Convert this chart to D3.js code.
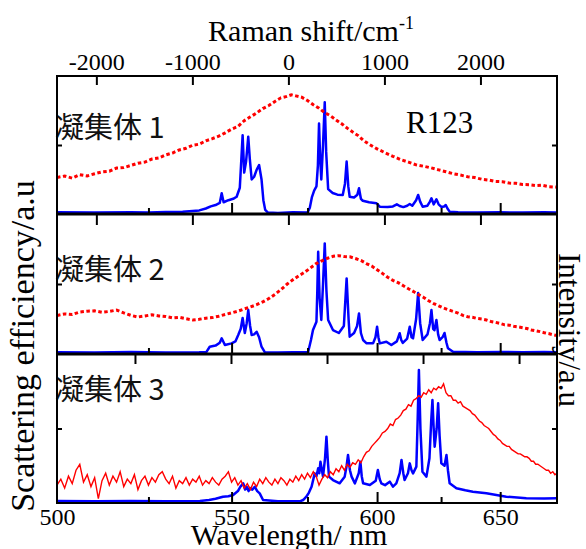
<!DOCTYPE html>
<html>
<head>
<meta charset="utf-8">
<script src="https://cdn.jsdelivr.net/npm/d3@7"></script>
<style>
body{margin:0;background:#fff;}
.serif{font-family:"Liberation Serif","Times New Roman",serif;}
</style>
</head>
<body>
<script>
//wavelength ticks (nm) and raman shift ticks (cm-1)
var wlMajor = [550, 600, 650];
var wlMinor = [525, 575, 625];
var wlLabels = [500, 550, 600, 650];
var ramanTicks = [-2000, -1000, 0, 1000, 2000];
var laserNm = 568.5;        //zero of the raman shift axis
var panel3ZeroNm = 581.8;   //zero of the shifted ticks on panel 3

var panelNames = ["凝集体 1", "凝集体 2", "凝集体 3"];

//[wavelength nm, intensity a.u. (0-100)]
var blue1 = [[500,1.2],[510,1.0],[520,1.3],[525,1.1],[530,1.4],[535,1.6],[537,2.0],[540,2.6],[542,4.0],[543.5,5.5],[545,6.5],[546.3,8],[546.9,15],[547.5,8.5],[549,10],[550.5,11],[551.6,12.5],[552.6,19],[553.1,40],[553.5,57],[554.0,30],[554.6,38],[555.3,56],[555.8,40],[556.4,25],[557.2,27],[558.0,32],[558.8,35.5],[559.6,25],[560.2,10],[560.8,3],[561.7,1],[565,0.8],[570,1.2],[575,1],[575.8,4.5],[576.5,12],[577.3,17],[578.1,20],[578.6,35],[579.0,65.5],[579.4,40],[579.8,25],[580.4,50],[581.0,81],[581.5,45],[582.2,18],[583.8,15.2],[585.5,14],[587.4,13.8],[588.2,22],[588.8,38],[589.4,20],[589.9,12.5],[591.5,12],[592.7,14],[593.3,18.6],[594,11],[594.7,9.6],[597,8.5],[599.8,7.8],[601,5.3],[604,5],[606,5.5],[607.5,7],[608.6,5.8],[610,5],[611.5,6],[612.5,7.2],[613.5,6],[615,10],[615.8,13.8],[616.6,9],[617.6,5.3],[619.5,6],[620.5,9],[621.1,11.4],[622,7],[623.1,10.7],[624,7],[625.1,5.1],[626.2,5.5],[626.9,6.5],[627.6,4],[628.5,1.7],[632,1.3],[640,1.1],[650,1.2],[660,1.0],[670,1.2],[676,1.1]];
var red1 = [[500,26.5],[502,27.5],[504,26],[506,28.5],[508,27.6],[510,29.2],[512,30.5],[514,31],[516,33.3],[518,33.6],[520,35.2],[522,36.8],[524,37.6],[526,39.8],[528,40.6],[530,42.8],[532,44.2],[534,46.4],[536,47.6],[538,49.8],[540,50.6],[542,53],[544,54.6],[546,56.4],[548,58.8],[550,61.5],[552,63.4],[554,67.6],[556,70.4],[558,73.2],[560,76.4],[562,78.6],[564,81.6],[566,84.2],[568,85.2],[569.5,86.4],[571,85.6],[573,84.6],[575,82.2],[577,79.2],[579,76.6],[581,73.4],[583,71.2],[585,68.2],[587,65.4],[589,62.2],[591,59.4],[593,56.8],[595,53.2],[597,50.6],[600,47.2],[603,44.4],[606,41.8],[609,39.4],[612,37.6],[615,35.6],[618,34.6],[621,33.4],[624,32],[627,30.6],[630,29.2],[633,28.2],[636,27],[639,26.4],[642,25.2],[645,24.6],[648,23.6],[651,23.4],[654,22.4],[657,22.2],[660,21.4],[663,21.2],[666,20.6],[669,20.8],[672,19.8],[676,19.4]];

var blue2 = [[500,1.2],[510,1.0],[520,1.4],[530,1.1],[540,1.3],[542.2,1.5],[543.2,5.2],[545,6],[546.3,8],[546.9,11.2],[547.9,6.4],[550,7.6],[551.2,9],[552.1,13.6],[552.9,18],[553.5,25.7],[554.2,15],[554.8,22],[555.3,31.4],[555.9,20],[556.4,13.6],[557.2,14],[558,15.9],[558.8,12],[559.6,5.2],[560.7,1.2],[565,1.0],[570,1.3],[575.2,1.2],[576.2,10],[576.9,17.1],[578.1,23.1],[578.4,45],[578.7,73],[579.2,40],[579.8,24.3],[580.4,50],[581.0,79],[581.6,45],[582.2,24.3],[583.9,17.1],[586,15],[587.8,20],[588.8,54],[589.5,25],[589.9,12.4],[591.5,15],[592.6,20],[593.3,29],[594,15],[594.8,10],[596.1,7.6],[598.5,7.6],[599.4,12],[600,19.5],[600.5,12],[601,7.6],[603.5,8.8],[605.4,6.4],[607.5,9],[608.6,14.8],[609.2,10],[609.8,7.9],[611.5,11],[612.5,19.5],[613.2,12],[613.8,11.2],[615,25],[615.8,43.6],[616.6,22],[617.6,10],[619.5,14],[620.5,22],[621.1,31.4],[621.8,18],[622.3,17],[623.1,24.3],[623.8,14],[624.4,10],[625.6,12],[626.4,15],[627.2,8],[627.8,4.1],[629.9,1.6],[635,1.4],[640,1.2],[650,1.5],[660,1.2],[670,1.4],[676,1.3]];
var red2 = [[500,27.5],[502,28.6],[504,28.2],[506,30],[508,30.6],[510,30.8],[512,29.8],[514,30.4],[516,31.4],[518,29.4],[520,27.6],[522,26.4],[524,27.2],[526,28],[528,27.2],[530,26.8],[532,25.8],[534,26.2],[536,25.2],[538,24.3],[540,24.8],[542,25.6],[544,26],[546,27],[548,28.2],[550,29.4],[552,30.6],[554,32.2],[556,33.6],[558,35.2],[560,37.2],[562,39.6],[564,42.6],[566,46],[568,49.8],[570,53],[572,55.8],[574,58.4],[576,61.4],[578,64.6],[580,66.6],[582,68.4],[584,69.8],[586,70.2],[588,69.6],[590,69.4],[592,68.2],[594,66.8],[596,64.6],[598,62.8],[600,60.2],[602,57.6],[604,54.8],[606,52.6],[608,51],[610,48.8],[612,46.6],[614,44.6],[616,42.4],[618,40.4],[620,38],[622,36],[624,34.4],[626,32.8],[628,31.6],[630,30.4],[632,29.2],[634,27.6],[636,26.6],[638,26.2],[640,25.4],[642,25],[644,24.3],[646,23.2],[648,22.6],[650,21.8],[652,20.8],[654,20.6],[656,19.8],[658,19.4],[660,18.8],[662,18.2],[664,17.2],[666,16.6],[668,16],[670,15.2],[672,14.6],[674,13.8],[676,13.2]];

var blue3 = [[500,1.3],[510,1.1],[520,1.4],[530,1.2],[540.2,1.3],[543,2],[545,2.8],[547.3,4.2],[549,4.5],[550.5,5.4],[552,8],[552.8,11],[553.7,13.2],[554.3,9],[554.8,10.9],[555.4,8],[555.8,10.1],[556.6,9],[557.4,10.9],[558.2,8],[559,6.5],[560.1,2],[565,1.2],[572.4,1.1],[573.5,2],[574.6,4.2],[575.5,7],[576.4,10.9],[577.5,19.9],[578.1,18],[578.7,23.3],[579.1,20],[579.5,27.7],[580.4,17.7],[581.1,30],[581.6,44.5],[582.1,28],[582.5,17.7],[583.9,15.4],[586.3,13.2],[588.1,17.7],[588.8,25],[589.3,32.2],[590,22],[590.6,17.7],[591.8,13.2],[593.2,20],[593.8,27.7],[594.3,18],[594.8,13.2],[597.3,12.1],[599.5,15],[600.3,22.1],[601,16],[601.6,13.2],[603,12],[604.8,14.3],[606,11],[607.3,13.2],[608.6,20],[609.3,28.9],[610,20],[610.5,15.4],[611.8,20],[612.5,26.6],[613.2,22],[613.8,19.9],[615.1,24.4],[615.6,55],[616.1,89.3],[616.7,50],[617.5,21],[619.1,17.7],[620.3,30],[621,55],[621.5,69.1],[622,50],[622.4,37.8],[623.2,50],[623.8,66.9],[624.4,45],[625.1,26.6],[626.4,25],[627.2,32.2],[627.8,22],[628.5,13.2],[631.3,9.9],[635,8.5],[638.2,7.6],[644,6.5],[652.7,4.2],[661.7,3.2],[670,3.0],[676,3.2]];
//red curve of panel 3 sampled every 1 nm from 500 nm
var red3Start = 500;
var red3 = [12,16,10,18,13,22,26,14,19,11,17,3,15,20,12,18,14,21,11,16,
  13,19,9,15,18,12,17,14,19,21,16,13,18,10,15,13,17,12,16,14,
  18,12,15,13,17,14,12,16,18,21,14,17,12,15,10,13,9,14,11,16,
  13,17,14,12,16,13,17,15,12,16,14,18,15,19,16,20,17,21,18,12,
  16,19,17,21,19,23,21,25,22,26,24,27,26,29,27,31,34,35,38,40,
  42,44,47,48,50,53,52,56,57,59,62,63,66,65,69,70,72,71,74,73,
  76,74,77,76,78,77,80,74,72,72,69,69,67,68,65,64,63,62,60,59,
  57,55,54,52,51,50,48,46,45,43,42,40,39,38,38,36,35,34,33,33,
  32,31,31,30,28,28,26,26,25,24,23,22,22,20,21,19,20];

window.onload = function(){
    var w = 586, h = 549;
    var left = 57, right = 557;
    var panelTops = [76, 214, 354];
    var panelBottoms = [214, 354, 503];

    var svg = d3.select("body")
        .append("svg")
        .attr("width", w)
        .attr("height", h);

    //bottom scale is linear in wavenumber (cm-1)
    var xNu = d3.scaleLinear()
        .domain([1e7/500, 1e7/676])
        .range([left, right]);
    function xWl(l){ return xNu(1e7/l); }

    var raman = d3.scaleLinear()
        .domain([1e7/laserNm - 1e7/500, 1e7/laserNm - 1e7/676])
        .range([left, right]);
    var raman3 = d3.scaleLinear()
        .domain([1e7/panel3ZeroNm - 1e7/500, 1e7/panel3ZeroNm - 1e7/676])
        .range([left, right]);

    var series = [
        {blue: blue1, red: red1, dotted: true},
        {blue: blue2, red: red2, dotted: true},
        {blue: blue3, red: red3.map(function(v, i){ return [red3Start + i, v]; }), dotted: false}
    ];

    series.forEach(function(s, p){
        var y = d3.scaleLinear().domain([0, 100]).range([panelBottoms[p], panelTops[p]]);
        var g = svg.append("g");

        svg.append("clipPath").attr("id", "clip" + p)
            .append("rect")
            .attr("x", left).attr("y", panelTops[p])
            .attr("width", right - left).attr("height", panelBottoms[p] - panelTops[p]);

        var line = d3.line()
            .x(function(d){ return xWl(d[0]); })
            .y(function(d){ return y(d[1]); });

        //blue spectrum
        g.append("path")
            .datum(s.blue)
            .attr("clip-path", "url(#clip" + p + ")")
            .attr("d", line)
            .attr("fill", "none")
            .attr("stroke", "#0000ff")
            .attr("stroke-width", 2.5)
            .attr("stroke-linejoin", "round");

        //red spectrum
        g.append("path")
            .datum(s.red)
            .attr("clip-path", "url(#clip" + p + ")")
            .attr("d", line)
            .attr("fill", "none")
            .attr("stroke", "#ff0000")
            .attr("stroke-width", s.dotted ? 3 : 1.4)
            .attr("stroke-dasharray", s.dotted ? "3.5,2.5" : null);

        //ticks on the panel bottom (wavelength)
        var bottomMajor = d3.axisTop(xNu)
            .tickValues(wlMajor.map(function(l){ return 1e7/l; }))
            .tickSize(11).tickFormat("");
        var bottomMinor = d3.axisTop(xNu)
            .tickValues(wlMinor.map(function(l){ return 1e7/l; }))
            .tickSize(6).tickFormat("");
        [bottomMajor, bottomMinor].forEach(function(ax){
            g.append("g")
                .attr("transform", "translate(0," + panelBottoms[p] + ")")
                .call(ax)
                .call(function(a){ a.select(".domain").remove(); });
        });

        //ticks on the panel top (raman shift)
        var topAxis = d3.axisBottom(p == 2 ? raman3 : raman)
            .tickValues(ramanTicks)
            .tickSize(p == 0 ? 9 : (p == 1 ? 11 : 10))
            .tickFormat("");
        g.append("g")
            .attr("transform", "translate(0," + panelTops[p] + ")")
            .call(topAxis)
            .call(function(a){ a.select(".domain").remove(); });

        //single y ticks in the middle
        g.append("g")
            .attr("transform", "translate(" + left + ",0)")
            .call(d3.axisRight(y).tickValues([50]).tickSize(5).tickFormat(""))
            .call(function(a){ a.select(".domain").remove(); });
        g.append("g")
            .attr("transform", "translate(" + right + ",0)")
            .call(d3.axisLeft(y).tickValues([50]).tickSize(5).tickFormat(""))
            .call(function(a){ a.select(".domain").remove(); });

        g.selectAll(".tick line").attr("stroke", "#000").attr("stroke-width", 2);

        //panel name
        g.append("text")
            .attr("x", 55)
            .attr("y", [138, 280, 400][p])
            .style("font-family", "'Noto Sans CJK SC', 'Noto Sans', sans-serif")
            .style("font-size", "29px")
            .attr("fill", "#111")
            .text(panelNames[p]);
    });

    //frame
    svg.append("rect")
        .attr("x", left).attr("y", panelTops[0])
        .attr("width", right - left).attr("height", panelBottoms[2] - panelTops[0])
        .attr("fill", "none").attr("stroke", "#000").attr("stroke-width", 2);
    svg.selectAll(".sep")
        .data([214, 354])
        .enter()
        .append("line")
        .attr("x1", left).attr("x2", right)
        .attr("y1", function(d){ return d; }).attr("y2", function(d){ return d; })
        .attr("stroke", "#000").attr("stroke-width", 3);

    //top axis labels
    var topLabels = svg.append("g")
        .attr("transform", "translate(0," + panelTops[0] + ")")
        .call(d3.axisTop(raman).tickValues(ramanTicks).tickSize(0).tickPadding(6)
            .tickFormat(function(d){ return d; }));
    topLabels.select(".domain").remove();
    topLabels.selectAll("text").style("font-size", "24px").attr("fill", "#000")
        .style("font-family", "'Liberation Serif', serif");

    //bottom axis labels
    var bottomLabels = svg.append("g")
        .attr("transform", "translate(0," + panelBottoms[2] + ")")
        .call(d3.axisBottom(xNu).tickValues(wlLabels.map(function(l){ return 1e7/l; }))
            .tickSize(0).tickPadding(5)
            .tickFormat(function(d){ return Math.round(1e7/d); }));
    bottomLabels.select(".domain").remove();
    bottomLabels.selectAll("text").style("font-size", "24px").attr("fill", "#000")
        .style("font-family", "'Liberation Serif', serif");

    //axis titles
    var title = svg.append("text")
        .attr("class", "serif")
        .attr("x", 311).attr("y", 41)
        .attr("text-anchor", "middle")
        .style("font-size", "30px");
    title.append("tspan").text("Raman shift/cm");
    title.append("tspan").attr("dy", -12).style("font-size", "18px").text("-1");

    svg.append("text")
        .attr("class", "serif")
        .attr("x", 289).attr("y", 545)
        .attr("text-anchor", "middle")
        .style("font-size", "30px")
        .text("Wavelength/ nm");

    svg.append("text")
        .attr("class", "serif")
        .attr("transform", "translate(34,346) rotate(-90)")
        .attr("text-anchor", "middle")
        .style("font-size", "34px")
        .text("Scattering efficiency/a.u");

    svg.append("text")
        .attr("class", "serif")
        .attr("transform", "translate(559,330) rotate(90)")
        .attr("text-anchor", "middle")
        .style("font-size", "31px")
        .text("Intensity/a.u");

    svg.append("text")
        .attr("class", "serif")
        .attr("x", 406).attr("y", 133)
        .style("font-size", "31px")
        .text("R123");
};
</script>
</body>
</html>
